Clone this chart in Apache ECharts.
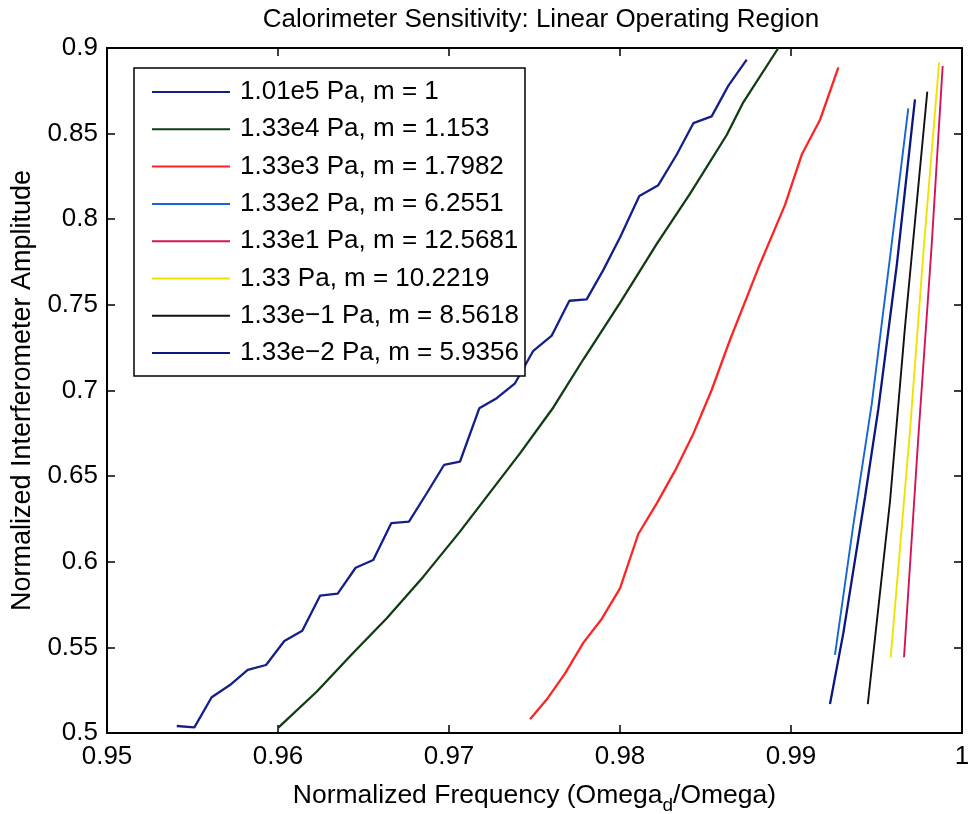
<!DOCTYPE html>
<html>
<head>
<meta charset="utf-8">
<script src="https://cdn.jsdelivr.net/npm/echarts@6/dist/echarts.min.js"></script>
<style>
  html, body { margin: 0; padding: 0; background: #fff; }
  #chart { width: 969px; height: 814px; }
</style>
</head>
<body>
<div id="chart"></div>
<script>
// series names (legend text)
var names = [
    '1.01e5 Pa, m = 1',
    '1.33e4 Pa, m = 1.153',
    '1.33e3 Pa, m = 1.7982',
    '1.33e2 Pa, m = 6.2551',
    '1.33e1 Pa, m = 12.5681',
    '1.33 Pa, m = 10.2219',
    '1.33e\u22121 Pa, m = 8.5618',
    '1.33e\u22122 Pa, m = 5.9356'
];
var colors = ['#14208a', '#0f3d12', '#ff2424', '#1764d4', '#d3145a', '#f0e200', '#111111', '#0c1680'];

// 1.01e5 Pa
var x1 = [0.95408, 0.95511, 0.95612, 0.95719, 0.95823, 0.95930, 0.96037, 0.96142, 0.96246, 0.96349,
          0.96454, 0.96557, 0.96663, 0.96766, 0.96870, 0.96971, 0.97064, 0.97177, 0.97279, 0.97386,
          0.97493, 0.97601, 0.97704, 0.97805, 0.97902, 0.98000, 0.98113, 0.98224, 0.98332, 0.98429,
          0.98536, 0.98633, 0.98741];
var y1 = [0.5041, 0.5033, 0.5209, 0.5280, 0.5368, 0.5397, 0.5537, 0.5597, 0.5802, 0.5814,
          0.5965, 0.6010, 0.6226, 0.6234, 0.6400, 0.6565, 0.6584, 0.6896, 0.6955, 0.7042,
          0.7232, 0.7321, 0.7524, 0.7532, 0.7703, 0.7893, 0.8136, 0.8199, 0.8378, 0.8561,
          0.8601, 0.8779, 0.8932];
// 1.33e4 Pa
var x2 = [0.96002, 0.96226, 0.96439, 0.96636, 0.96850, 0.97064, 0.97415, 0.97610, 0.97785, 0.98000,
          0.98215, 0.98409, 0.98624, 0.98721, 0.98926];
var y2 = [0.5031, 0.5241, 0.5467, 0.5670, 0.5913, 0.6176, 0.6633, 0.6901, 0.7181, 0.7512,
          0.7856, 0.8148, 0.8492, 0.8683, 0.9000];
// 1.33e3 Pa
var x3 = [0.97474, 0.97571, 0.97678, 0.97785, 0.97893, 0.98000, 0.98107, 0.98215, 0.98322, 0.98429,
          0.98536, 0.98643, 0.98809, 0.98965, 0.99063, 0.99170, 0.99277];
var y3 = [0.5080, 0.5195, 0.5347, 0.5526, 0.5666, 0.5844, 0.6162, 0.6341, 0.6532, 0.6748,
          0.7003, 0.7295, 0.7715, 0.8084, 0.8378, 0.8581, 0.8887];
// 1.33e2 Pa
var x4 = [0.99257, 0.99364, 0.99472, 0.99579, 0.99686];
var y4 = [0.5456, 0.6213, 0.6920, 0.7777, 0.8648];
// 1.33e1 Pa
var x5 = [0.99661, 0.99744, 0.99823, 0.99887];
var y5 = [0.5442, 0.6718, 0.7853, 0.8895];
// 1.33 Pa
var x6 = [0.99583, 0.99696, 0.99774, 0.99866];
var y6 = [0.5442, 0.6768, 0.7803, 0.8917];
// 1.33e-1 Pa
var x7 = [0.99449, 0.99579, 0.99667, 0.99797];
var y7 = [0.5169, 0.6352, 0.7374, 0.8745];
// 1.33e-2 Pa
var x8 = [0.99228, 0.99306, 0.99433, 0.99511, 0.99618, 0.99725];
var y8 = [0.5169, 0.5583, 0.6378, 0.6894, 0.7727, 0.8700];

var xTicks = { min: 0.95, max: 1, interval: 0.01 };
var yTicks = { min: 0.5, max: 0.9, interval: 0.05 };

var allX = [x1, x2, x3, x4, x5, x6, x7, x8];
var allY = [y1, y2, y3, y4, y5, y6, y7, y8];

function pairs(xs, ys) {
    var out = [];
    for (var i = 0; i < xs.length; i++) {
        out.push([xs[i], ys[i]]);
    }
    return out;
}

var font = 'Liberation Sans, Arial, Helvetica, sans-serif';

var series = [];
for (var i = 0; i < names.length; i++) {
    series.push({
        name: names[i],
        type: 'line',
        symbol: 'none',
        data: pairs(allX[i], allY[i]),
        color: colors[i],
        lineStyle: { width: i < 3 || i === 7 ? 2.3 : 1.9, color: colors[i] },
        animation: false
    });
}

function axisBase(extra) {
    var a = {
        type: 'value',
        axisLine: { show: true, lineStyle: { color: '#000', width: 2 } },
        axisTick: { show: true, inside: true, length: 8, lineStyle: { color: '#000', width: 1.5 } },
        splitLine: { show: false },
        axisLabel: { color: '#000', fontSize: 26, fontFamily: font }
    };
    for (var k in extra) a[k] = extra[k];
    return a;
}

var chart = echarts.init(document.getElementById('chart'));
chart.setOption({
    backgroundColor: '#fff',
    animation: false,
    title: {
        text: 'Calorimeter Sensitivity: Linear Operating Region',
        left: 536,
        textAlign: 'center',
        top: 2,
        textStyle: { color: '#000', fontSize: 26, fontWeight: 'normal', fontFamily: font }
    },
    grid: { left: 107, right: 7, top: 48, bottom: 81, outerBoundsMode: 'none' },
    legend: {
        data: names,
        orient: 'vertical',
        left: 134,
        top: 68,
        padding: [9, 6, 8, 18],
        itemWidth: 78,
        itemHeight: 2,
        itemGap: 7.3,
        icon: 'rect',
        backgroundColor: '#fff',
        borderColor: '#000',
        borderWidth: 1.5,
        borderRadius: 0,
        textStyle: { color: '#000', fontSize: 26, lineHeight: 30, fontFamily: font, padding: [0, 0, 0, 5] }
    },
    xAxis: [
        axisBase({
            min: xTicks.min, max: xTicks.max, interval: xTicks.interval,
            position: 'bottom',
            name: 'Normalized Frequency (Omega{sub|d}/Omega)',
            nameLocation: 'middle',
            nameGap: 44,
            nameTextStyle: {
                color: '#000', fontSize: 26.5, fontFamily: font,
                rich: { sub: { fontSize: 19, fontFamily: font, color: '#000', padding: [19, 0, 0, 0] } }
            },
            axisLabel: { color: '#000', fontSize: 26, fontFamily: font, margin: 11 }
        }),
        axisBase({
            min: xTicks.min, max: xTicks.max, interval: xTicks.interval,
            position: 'top',
            axisLabel: { show: false }
        })
    ],
    yAxis: [
        axisBase({
            min: yTicks.min, max: yTicks.max, interval: yTicks.interval,
            position: 'left',
            name: 'Normalized Interferometer Amplitude',
            nameLocation: 'middle',
            nameGap: 70,
            nameTextStyle: { color: '#000', fontSize: 27, fontFamily: font },
            axisLabel: { color: '#000', fontSize: 26, fontFamily: font, margin: 9 }
        }),
        axisBase({
            min: yTicks.min, max: yTicks.max, interval: yTicks.interval,
            position: 'right',
            axisLabel: { show: false }
        })
    ],
    series: series
});
</script>
</body>
</html>
